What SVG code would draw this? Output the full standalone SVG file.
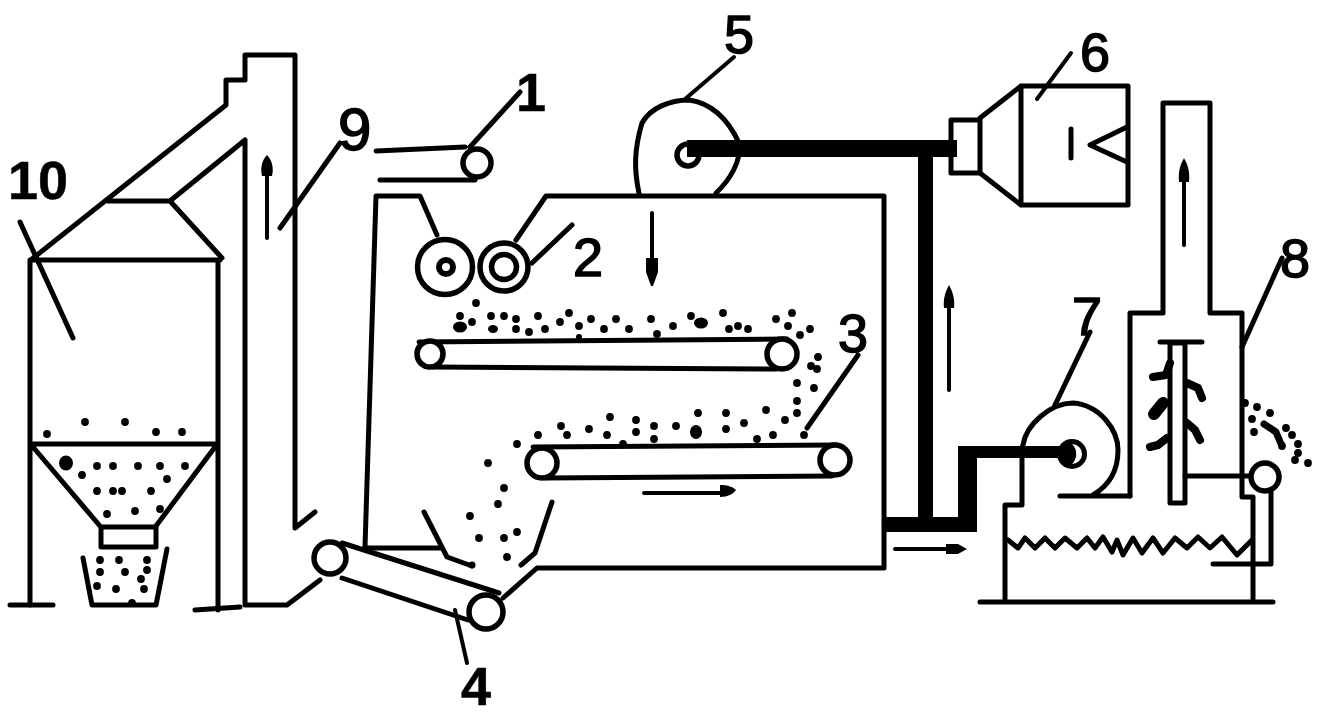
<svg xmlns="http://www.w3.org/2000/svg" width="1320" height="718" viewBox="0 0 1320 718">
<style>
.l{fill:none;stroke:#000;stroke-width:5;stroke-linecap:round;stroke-linejoin:round}
.t{fill:none;stroke:#000;stroke-width:4;stroke-linecap:round;stroke-linejoin:round}
.r{fill:#fff;stroke:#000;stroke-width:5.500}
.d{fill:none;stroke:#000;stroke-linejoin:miter;stroke-linecap:butt}
.h{fill:#000;stroke:none}
text{font-family:"Liberation Sans",Arial,sans-serif;font-size:54px;fill:#000;stroke:#000;stroke-width:1.500}
.b{font-weight:bold;stroke-width:0.500}
</style>
<rect width="1320" height="718" fill="#fff"/>

<g id="silo-10">
<path class="l" d="M30 260V605M218 260V610M30 260H220M108 201H170L222 258M30 444H218M33 447L100 526M215 447L156 526"/>
<rect class="l" x="101" y="527" width="55" height="20"/>
<path class="l" d="M83 558L92 605H156L167 549M10 605H53M195 610L240 607"/>
<path class="l" d="M20 222L73 338"/>
<g class="h">
<circle cx="47" cy="434" r="3.900"/><circle cx="85" cy="422" r="3.900"/><circle cx="125" cy="422" r="3.900"/><circle cx="156" cy="432" r="3.900"/><circle cx="182" cy="432" r="3.900"/>
<ellipse cx="66" cy="463" rx="7" ry="7.500"/>
<circle cx="82" cy="475" r="3.900"/><circle cx="97" cy="466" r="3.900"/><circle cx="113" cy="466" r="3.900"/><circle cx="138" cy="466" r="3.900"/><circle cx="160" cy="466" r="3.900"/><circle cx="185" cy="466" r="3.900"/><circle cx="167" cy="479" r="3.900"/>
<circle cx="97" cy="491" r="3.900"/><circle cx="113" cy="491" r="3.900"/><circle cx="122" cy="491" r="3.900"/><circle cx="151" cy="491" r="3.900"/>
<circle cx="107" cy="514" r="3.900"/><circle cx="135" cy="511" r="3.900"/><circle cx="160" cy="509" r="3.900"/>
<circle cx="100" cy="560" r="3.900"/><circle cx="119" cy="560" r="3.900"/><circle cx="147" cy="560" r="3.900"/><circle cx="100" cy="572" r="3.900"/><circle cx="125" cy="572" r="3.900"/><circle cx="147" cy="570" r="3.900"/><circle cx="141" cy="579" r="3.900"/><circle cx="97" cy="586" r="3.900"/><circle cx="116" cy="589" r="3.900"/><circle cx="144" cy="589" r="3.900"/><circle cx="132" cy="603" r="3.900"/>
</g>
<text class="b" x="8" y="199">10</text>
</g>

<g id="elevator-9">
<path class="l" d="M245 140V605M295 55V528L315 512M245 55H295M245 55V80H226V105L32 259M245 140L170 201M245 605H287L320 580"/>
<path class="l" d="M280 228L340 143"/>
<path class="t" d="M267 238V170"/>
<path class="h" d="M267 155C272 160 274 168 272 176H262C260 168 262 160 267 155Z"/>
<text style="font-size:60px" x="338" y="150">9</text>
</g>

<g id="feed-belt-1">
<path class="l" d="M376 151L465 147M380 180H475M470 147L520 92"/>
<circle class="r" cx="477" cy="163" r="14"/>
<text class="b" x="516" y="111">1</text>
</g>

<g id="chamber">
<path class="l" d="M437 235L420 196H376L365 547M365 548H440M516 240L546 196H884V568H537L503 598M424 512L447 557L472 566M552 502L535 553L521 565"/>
<circle cx="472" cy="565" r="3.500"/>
</g>

<g id="rollers-2">
<circle class="r" cx="445" cy="267" r="27.500"/>
<circle cx="446" cy="267" r="10"/>
<circle cx="446" cy="267" r="4" fill="#fff"/>
<circle class="r" cx="504" cy="267" r="24"/>
<circle class="r" cx="504" cy="267" r="12.500"/>
<path class="l" d="M532 263L572 225"/>
<text x="573" y="276">2</text>
</g>

<g id="belt-3">
<path class="l" d="M419 342L787 339M433 367L777 369"/>
<circle class="r" cx="430" cy="354" r="13"/>
<circle class="r" cx="782" cy="354" r="15"/>
<path class="l" d="M533 447L836 445M545 478L832 476"/>
<circle class="r" cx="542" cy="463" r="15"/>
<circle class="r" cx="835" cy="460" r="15"/>
<path class="l" d="M807 428L858 355"/>
<text x="838" y="352">3</text>
</g>

<g id="particles" class="h">
<circle cx="476" cy="303" r="3.900"/><circle cx="460" cy="316" r="3.900"/><ellipse cx="460" cy="327" rx="7" ry="5.500"/><circle cx="472" cy="322" r="3.900"/><circle cx="491" cy="316" r="3.900"/><circle cx="504" cy="316" r="3.900"/><circle cx="516" cy="319" r="3.900"/><ellipse cx="493" cy="329" rx="5" ry="4"/><circle cx="516" cy="329" r="3.900"/><circle cx="529" cy="332" r="3.900"/><circle cx="538" cy="316" r="3.900"/><circle cx="545" cy="329" r="3.900"/><circle cx="560" cy="322" r="3.900"/><circle cx="569" cy="313" r="3.900"/><circle cx="579" cy="326" r="3.900"/><circle cx="591" cy="319" r="3.900"/><circle cx="604" cy="329" r="3.900"/><circle cx="616" cy="319" r="3.900"/><circle cx="629" cy="329" r="3.900"/><circle cx="651" cy="319" r="3.900"/><circle cx="673" cy="326" r="3.900"/><circle cx="691" cy="316" r="3.900"/><ellipse cx="701" cy="323" rx="7" ry="5.500"/><circle cx="723" cy="313" r="3.900"/><circle cx="729" cy="329" r="3.900"/><circle cx="738" cy="326" r="3.900"/><circle cx="748" cy="329" r="3.900"/><circle cx="776" cy="319" r="3.900"/><circle cx="792" cy="313" r="3.900"/><circle cx="788" cy="326" r="3.900"/><circle cx="810" cy="329" r="3.900"/><circle cx="800" cy="335" r="3.900"/><circle cx="818" cy="357" r="3.900"/><circle cx="811" cy="366" r="3.900"/><circle cx="817" cy="369" r="3.900"/><circle cx="657" cy="334" r="3.900"/><circle cx="579" cy="337" r="3"/>
<circle cx="797" cy="383" r="3.900"/><circle cx="814" cy="388" r="3.900"/><circle cx="797" cy="401" r="3.900"/><circle cx="797" cy="413" r="3.900"/><circle cx="785" cy="420" r="3.900"/><circle cx="766" cy="410" r="3.900"/><circle cx="744" cy="423" r="3.900"/><circle cx="726" cy="413" r="3.900"/><circle cx="726" cy="429" r="3.900"/><circle cx="757" cy="439" r="3.900"/><circle cx="773" cy="435" r="3.900"/><circle cx="804" cy="435" r="3.900"/><circle cx="698" cy="413" r="3.900"/><ellipse cx="696" cy="432" rx="6" ry="7"/><circle cx="676" cy="426" r="3.900"/><circle cx="654" cy="426" r="3.900"/><circle cx="654" cy="439" r="3.900"/><circle cx="636" cy="420" r="3.900"/><circle cx="636" cy="432" r="3.900"/><circle cx="610" cy="417" r="3.900"/><circle cx="607" cy="435" r="3.900"/><circle cx="589" cy="429" r="3.900"/><circle cx="567" cy="435" r="3.900"/><circle cx="561" cy="426" r="3.900"/><circle cx="538" cy="435" r="3.900"/><circle cx="517" cy="444" r="3.900"/><circle cx="488" cy="463" r="3.900"/><circle cx="504" cy="488" r="3.900"/><circle cx="498" cy="504" r="3.900"/><circle cx="470" cy="516" r="3.900"/><circle cx="479" cy="538" r="3.900"/><circle cx="504" cy="538" r="3.900"/><circle cx="517" cy="532" r="3.900"/><circle cx="507" cy="557" r="3.900"/><circle cx="623" cy="444" r="3.900"/>
</g>

<g id="belt-4">
<path class="l" d="M342 543L499 593M342 578L468 620"/>
<circle class="r" cx="330" cy="558" r="16"/>
<circle class="r" cx="486" cy="612" r="17"/>
<path class="t" d="M455 610L467 663"/>
<text class="b" x="461" y="705">4</text>
</g>

<g id="fan-5">
<path class="l" d="M639 193C634 170 634 150 642 123C650 108 670 100 689 100C710 103 727 117 739 143C742 160 730 180 716 193"/>
<circle class="r" cx="688" cy="155" r="11"/>
<path class="t" d="M684 100L734 57"/>
<text x="724" y="53">5</text>
</g>

<g id="ducts">
<path class="d" d="M687 148.500H957" stroke-width="17"/>
<path class="d" d="M925.500 157V520" stroke-width="15"/>
<path class="h" d="M885 517H958V446H1060V458H977V532H885Z"/>
</g>

<g id="cyclone-6">
<path class="l" d="M1021 86H1128V205H1021ZM1021 86L980 118M1021 205L980 173"/>
<rect class="l" x="951" y="120" width="29" height="53"/>
<path class="d" d="M938 148.500H957" stroke-width="17"/>
<path class="l" d="M1071 129V158M1127 127L1090 145L1127 162"/>
<path class="t" d="M1037 99L1071 53"/>
<text x="1080" y="71">6</text>
</g>

<g id="fan-7">
<path class="l" d="M1023 445C1026 425 1050 403 1073 403C1100 405 1118 430 1118 450C1118 470 1110 485 1093 495M1060 496H1130"/>
<circle cx="1072" cy="454" r="15"/>
<path d="M1072 444A10 10 0 0 1 1072 464A14 14 0 0 0 1072 444Z" fill="#fff"/>
<path class="l" d="M1055 405L1090 332"/>
<text x="1072" y="335">7</text>
</g>

<g id="scrubber-8">
<path class="l" d="M1130 496V313H1163V103H1210V313H1242V497H1253V602M1022 447V505H1005V602M980 602H1273"/>
<path class="l" d="M1008 540L1018 548L1025 538L1035 548L1045 538L1055 548L1065 538L1077 548L1087 538L1095 548L1103 537L1112 552L1117 540L1123 555L1133 538L1142 553L1153 538L1163 553L1175 538L1187 548L1198 537L1210 548L1222 537L1237 555L1252 540"/>
<rect class="l" x="1170" y="343" width="15" height="160"/>
<path class="l" d="M1160 342H1202M1185 476H1250M1271 492V564H1213M1242 347L1282 258"/>
<circle class="r" cx="1265" cy="477" r="14"/>
<path class="l" style="stroke-width:8" d="M1170 363L1166 375L1153 377M1187 383L1198 388L1202 398M1167 438L1158 445L1150 447M1187 423L1195 430L1200 440"/>
<path class="l" style="stroke-width:12" d="M1163 403L1154 414"/>
<g class="h">
<circle cx="1245" cy="403" r="3.900"/><circle cx="1257" cy="407" r="3.900"/><circle cx="1270" cy="413" r="3.900"/><circle cx="1252" cy="419" r="3.900"/><circle cx="1254" cy="432" r="3.900"/><circle cx="1286" cy="428" r="3.900"/><circle cx="1292" cy="435" r="3.900"/><circle cx="1298" cy="444" r="3.900"/><circle cx="1298" cy="453" r="3.900"/><circle cx="1295" cy="460" r="3.900"/><circle cx="1308" cy="463" r="3.900"/><circle cx="1282" cy="446" r="3.900"/>
</g>
<path class="l" style="stroke-width:7" d="M1264 424L1276 432L1281 444"/>
<text x="1280" y="277">8</text>
</g>

<g id="flow-arrows">
<path class="t" d="M652 213V262"/><path class="h" d="M646 258H658V272L653 286H651L646 272Z"/>
<path class="t" d="M644 493H722"/><path class="h" d="M720 485C728 485 733 487 736 490C733 494 728 497 720 497Z"/>
<path class="t" d="M949 390V305"/><path class="h" d="M949 285C953 292 955 300 954 308H944C943 300 945 292 949 285Z"/>
<path class="t" d="M895 549H950"/><path class="h" d="M946 544H958L967 549L958 554H946Z"/>
<path class="t" d="M1184 245V178"/><path class="h" d="M1184 158C1188 165 1190 172 1189 182H1179C1178 172 1180 165 1184 158Z"/>
</g>
</svg>
